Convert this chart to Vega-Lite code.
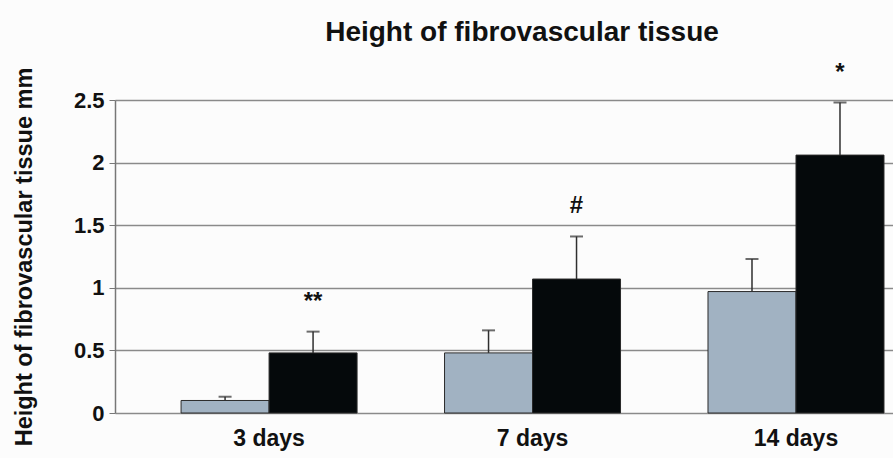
{
  "$schema": "https://vega.github.io/schema/vega-lite/v6.json",
  "width": 778,
  "height": 313,
  "autosize": {"type": "none"},
  "padding": {"left": 115, "top": 100, "right": 0, "bottom": 45},
  "background": "#fcfcfc",
  "title": {
    "text": "Height of fibrovascular tissue",
    "font": "Liberation Sans",
    "fontSize": 28,
    "fontWeight": "bold",
    "color": "#111111",
    "dx": 18,
    "offset": 14
  },
  "config": {"view": {"stroke": null}},
  "data": {
    "values": [
      {"day": "3 days", "group": "Control", "value": 0.1, "err": 0.13, "note": ""},
      {"day": "3 days", "group": "Treated", "value": 0.48, "err": 0.65, "note": "**"},
      {"day": "7 days", "group": "Control", "value": 0.48, "err": 0.66, "note": ""},
      {"day": "7 days", "group": "Treated", "value": 1.07, "err": 1.41, "note": "#"},
      {"day": "14 days", "group": "Control", "value": 0.97, "err": 1.23, "note": ""},
      {"day": "14 days", "group": "Treated", "value": 2.06, "err": 2.48, "note": "*"}
    ]
  },
  "encoding": {
    "x": {
      "field": "day",
      "type": "nominal",
      "sort": ["3 days", "7 days", "14 days"],
      "scale": {"paddingInner": 0.332, "paddingOuter": 0.1425, "align": 0.88},
      "axis": {
        "title": null,
        "domain": false,
        "ticks": false,
        "labelAngle": 0,
        "labelFont": "Liberation Sans",
        "labelFontSize": 23,
        "labelFontWeight": "bold",
        "labelColor": "#111111",
        "labelPadding": 14
      }
    },
    "xOffset": {"field": "group", "type": "nominal", "scale": {"paddingInner": 0, "paddingOuter": 0}}
  },
  "layer": [
    {
      "mark": {"type": "bar", "stroke": "#2a2a2a", "strokeWidth": 1},
      "encoding": {
        "y": {
          "field": "value",
          "type": "quantitative",
          "scale": {"domain": [0, 2.5], "nice": false},
          "axis": {
            "values": [0, 0.5, 1, 1.5, 2, 2.5],
            "format": ".1~f",
            "grid": true,
            "gridColor": "#8a8a8a",
            "gridWidth": 1.5,
            "domain": true,
            "domainColor": "#777777",
            "domainWidth": 1.5,
            "ticks": true,
            "tickColor": "#777777",
            "tickSize": 6,
            "labelFont": "Liberation Sans",
            "labelFontSize": 22,
            "labelFontWeight": "bold",
            "labelColor": "#111111",
            "labelPadding": 5,
            "title": "Height of fibrovascular tissue mm",
            "titleFont": "Liberation Sans",
            "titleFontSize": 23.5,
            "titleFontWeight": "bold",
            "titleColor": "#111111",
            "titlePadding": 37
          }
        },
        "color": {
          "field": "group",
          "type": "nominal",
          "scale": {"range": ["#a1b2c2", "#05090b"]},
          "legend": null
        }
      }
    },
    {
      "mark": {"type": "rule", "color": "#2f2f2f", "strokeWidth": 1.5},
      "encoding": {
        "y": {"field": "value", "type": "quantitative"},
        "y2": {"field": "err"}
      }
    },
    {
      "mark": {"type": "tick", "color": "#2f2f2f", "size": 13, "thickness": 2},
      "encoding": {
        "y": {"field": "err", "type": "quantitative"}
      }
    },
    {
      "mark": {"type": "text", "font": "Liberation Sans", "fontSize": 24, "fontWeight": "bold", "color": "#111111", "dy": -30},
      "encoding": {
        "y": {"field": "err", "type": "quantitative"},
        "text": {"field": "note"}
      }
    }
  ]
}
